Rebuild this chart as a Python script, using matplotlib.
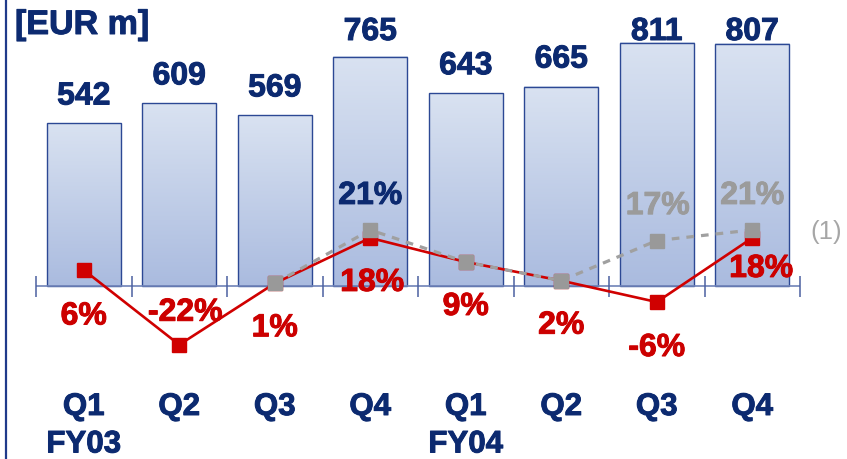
import numpy as np
import matplotlib
matplotlib.use('Agg')
import matplotlib.pyplot as plt
import matplotlib.patheffects as pe
from matplotlib.colors import LinearSegmentedColormap
from matplotlib.transforms import blended_transform_factory

# ---------------- data ----------------
quarters = ['Q1', 'Q2', 'Q3', 'Q4', 'Q1', 'Q2', 'Q3', 'Q4']
fiscal_years = ['FY03', '', '', '', 'FY04', '', '', '']
revenue = [542, 609, 569, 765, 643, 665, 811, 807]
growth_red = [6, -22, 1, 18, 9, 2, -6, 18]
growth_gray = [np.nan, np.nan, 1, 21, 9, 2, 17, 21]
gray_label_idx = [3, 6, 7]
unit_label = '[EUR m]'
footnote = '(1)'

# ---------------- style / layout ----------------
plt.rcParams['font.family'] = ['Liberation Sans', 'DejaVu Sans']
NAVY = '#0c2a70'
RED = '#d00000'
GRAY = '#9b9b9b'
W, H = 847, 460
X0_PX, STEP_PX = 36, 95.5      # pixel of x=-0.5 and pixels per category
ZERO_PX = 287                  # pixel row of the zero line
EUR_PX, PCT_PX = 0.30, 2.67    # pixels per EUR m / per %


def heavy(color):
    return [pe.withStroke(linewidth=0.7, foreground=color)]


fig = plt.figure(figsize=(W / 100, H / 100), dpi=100)
ax = fig.add_axes([0, 0, 1, 1])
xlim = (-0.5 - X0_PX / STEP_PX, -0.5 + (W - X0_PX) / STEP_PX)
ylim = (-(H - ZERO_PX) / EUR_PX, ZERO_PX / EUR_PX)
ax.axis('off')

x = np.arange(len(revenue))
bars = ax.bar(x, revenue, width=0.775, color='none', edgecolor='#2c4894',
              lw=1.0, zorder=3)
grad = np.linspace(0, 1, 256).reshape(-1, 1)
cmap = LinearSegmentedColormap.from_list('g', ['#aabbdf', '#d9e2f1'])
for b in bars:
    x0, w, h = b.get_x(), b.get_width(), b.get_height()
    ax.imshow(grad, extent=[x0, x0 + w, 0, h], origin='lower', cmap=cmap,
              aspect='auto', zorder=2, interpolation='bilinear')
ax.set_xlim(*xlim)
ax.set_ylim(*ylim)

# category axis with boundary ticks
ax.hlines(0, -0.5, len(revenue) - 0.5, color='#7083b8', lw=1.2, zorder=4)
ax.vlines(np.arange(len(revenue) + 1) - 0.5, -11 / EUR_PX, 10 / EUR_PX,
          color='#4c60a0', lw=1.1, zorder=4)

# value labels
for xi, v in zip(x, revenue):
    ax.text(xi, min(v + 63, 820), f'{v}', ha='center', va='baseline',
            fontsize=23, fontweight='bold', color=NAVY, zorder=7,
            path_effects=heavy(NAVY))

# category labels
tb = blended_transform_factory(ax.transData, fig.transFigure)
for xi, q, fy in zip(x, quarters, fiscal_years):
    ax.text(xi, 1 - 416 / H, q, transform=tb, ha='center', va='baseline',
            fontsize=22.5, fontweight='bold', color=NAVY,
            path_effects=heavy(NAVY))
    if fy:
        ax.text(xi, 1 - 453.5 / H, fy, transform=tb, ha='center',
                va='baseline', fontsize=22.5, fontweight='bold', color=NAVY,
                path_effects=heavy(NAVY))

# percentage axis
ax2 = fig.add_axes([0, 0, 1, 1], sharex=ax)
ax2.axis('off')
ax2.patch.set_visible(False)
ax2.set_ylim(-(H - ZERO_PX) / PCT_PX, ZERO_PX / PCT_PX)

ax2.plot(x, growth_red, color=RED, lw=1.9, marker='s', ms=9.5,
         mfc=RED, mec=RED, zorder=5)
ax2.plot(x, growth_gray, color='#a0a0a0', lw=2.3, ls=(0, (2.4, 2.2)),
         marker='s', ms=9.5, mfc='#999999', mec='#999999', zorder=6)

red_offsets = [(0, -54.5), (6, 24), (0, -53), (2, -53), (0, -53), (0, -53),
               (0, -54), (9, -39)]
for xi, g, off in zip(x, growth_red, red_offsets):
    ax2.annotate(f'{g}%', (xi, g), xytext=off, textcoords='offset pixels',
                 ha='center', va='baseline', fontsize=23, fontweight='bold',
                 color='#cc0000', zorder=8, path_effects=heavy('#cc0000'))

gray_offsets = {3: (0, 26), 6: (1, 26.5), 7: (0, 26)}
gray_colors = {3: NAVY, 6: GRAY, 7: GRAY}
for i in gray_label_idx:
    g = growth_gray[i]
    ax2.annotate(f'{g:.0f}%', (x[i], g), xytext=gray_offsets[i],
                 textcoords='offset pixels', ha='center', va='baseline',
                 fontsize=23, fontweight='bold', color=gray_colors[i], zorder=8,
                 path_effects=heavy(gray_colors[i]))

ax2.annotate(footnote, (x[-1], growth_gray[-1]), xytext=(74, -1),
             textcoords='offset pixels', ha='center', va='center',
             fontsize=18.5, color='#a6a6a6', annotation_clip=False)

# unit label and left border
fig.text(15 / W, 1 - 35 / H, unit_label, ha='left', va='baseline',
         fontsize=24.5, fontweight='bold', color=NAVY,
         path_effects=heavy(NAVY))
fig.add_artist(plt.Line2D([6 / W, 6 / W], [0, 1], transform=fig.transFigure,
                          color='#1f3a8a', lw=1.6))

fig.savefig('out.png', dpi=100)
